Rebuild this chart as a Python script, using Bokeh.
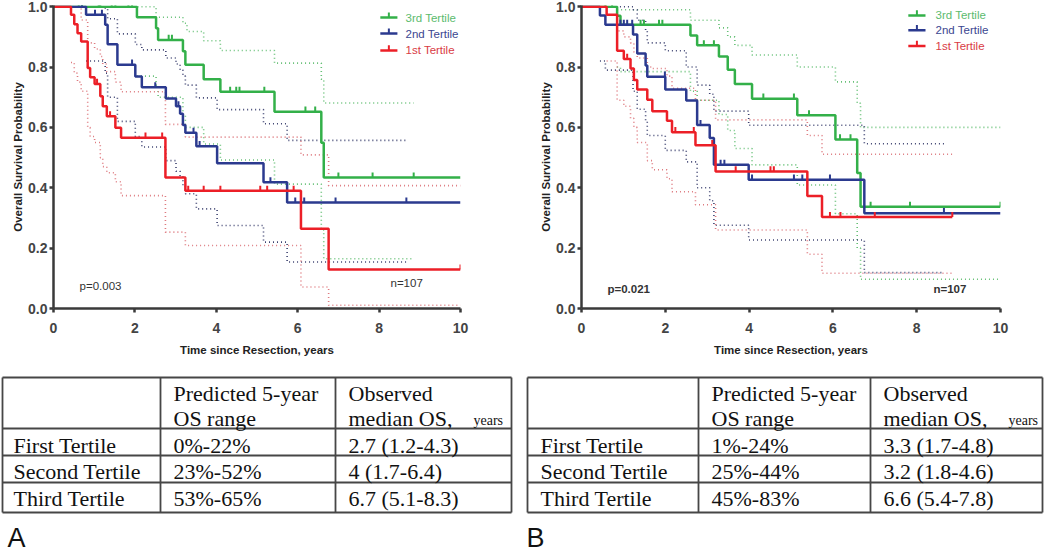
from bokeh.plotting import figure
from bokeh.layouts import row, column
from bokeh.models import Range1d, FixedTicker, PrintfTickFormatter
from bokeh.core.properties import value
from bokeh.embed import file_html
from bokeh.resources import INLINE

# ---------------- DATA ----------------
# Panel A (Kaplan-Meier, 3 tertiles)
A_green_t = [2.05, 2.52, 2.57, 3.18, 3.24, 3.69, 4.10, 5.43, 6.58, 6.64]
A_green_s = [0.965, 0.929, 0.890, 0.852, 0.808, 0.760, 0.718, 0.652, 0.549, 0.434]
A_green_cens = [0.62, 0.70, 1.11, 1.15, 1.43, 1.52, 1.84, 1.93, 2.83, 2.91, 4.34, 4.49, 4.57, 5.18, 6.19, 6.43, 7.00, 7.84, 8.85]
A_green_up_t = [0.0, 2.52, 3.18, 3.28, 3.69, 4.10, 5.43, 6.58, 6.64]
A_green_up_v = [1.0, 0.965, 0.945, 0.918, 0.887, 0.855, 0.813, 0.760, 0.681]
A_green_lo_t = [2.05, 2.52, 2.57, 3.18, 3.24, 3.69, 4.10, 5.43, 6.58, 6.64]
A_green_lo_v = [0.77, 0.74, 0.70, 0.64, 0.60, 0.545, 0.492, 0.412, 0.26, 0.165]

A_blue_t = [0.80, 1.27, 1.33, 1.57, 2.01, 2.17, 2.76, 3.01, 3.11, 3.18, 3.24, 3.51, 4.02, 5.16, 5.74]
A_blue_s = [0.973, 0.940, 0.876, 0.808, 0.769, 0.733, 0.696, 0.670, 0.645, 0.608, 0.582, 0.538, 0.481, 0.418, 0.351]
A_blue_cens = [0.70, 1.02, 1.19, 1.93, 2.50, 3.07, 3.44, 3.59, 5.33, 5.94, 6.16, 6.93, 8.67]
A_blue_up_t = [0.80, 1.27, 1.33, 1.57, 2.01, 2.17, 2.76, 3.01, 3.11, 3.18, 3.24, 3.51, 4.02, 5.16, 5.74]
A_blue_up_v = [1.0, 0.995, 0.96, 0.91, 0.875, 0.857, 0.83, 0.81, 0.79, 0.77, 0.74, 0.698, 0.659, 0.612, 0.557]
A_blue_lo_t = [0.80, 1.27, 1.33, 1.57, 2.01, 2.17, 2.76, 3.01, 3.11, 3.18, 3.24, 3.51, 4.02, 5.16, 5.74]
A_blue_lo_v = [0.82, 0.78, 0.70, 0.62, 0.57, 0.535, 0.49, 0.455, 0.44, 0.41, 0.38, 0.33, 0.275, 0.22, 0.154]

A_red_t = [0.43, 0.51, 0.59, 0.68, 0.84, 0.90, 1.01, 1.15, 1.21, 1.31, 1.52, 1.66, 2.75, 3.24, 6.08, 6.76]
A_red_s = [0.973, 0.942, 0.912, 0.885, 0.797, 0.766, 0.744, 0.703, 0.670, 0.637, 0.599, 0.566, 0.434, 0.390, 0.264, 0.129]
A_red_cens = [1.07, 1.39, 2.26, 2.67, 3.31, 3.69, 4.10, 5.08, 5.25, 5.90, 10.0]
A_red_up_t = [0.43, 0.68, 0.84, 1.01, 1.15, 1.21, 1.31, 1.52, 1.66, 2.75, 3.24, 6.08, 6.76]
A_red_up_v = [1.0, 0.956, 0.88, 0.86, 0.835, 0.81, 0.785, 0.75, 0.718, 0.61, 0.568, 0.509, 0.407]
A_red_lo_t = [0.43, 0.51, 0.59, 0.68, 0.84, 0.90, 1.01, 1.15, 1.21, 1.31, 1.52, 1.66, 2.75, 3.24, 6.08, 6.76]
A_red_lo_v = [0.815, 0.78, 0.75, 0.72, 0.60, 0.57, 0.55, 0.50, 0.47, 0.45, 0.42, 0.374, 0.253, 0.209, 0.071, 0.011]

A_ends = {"green": (10.0, 8.85), "blue": (10.0, 8.67), "red": (10.0, 10.0)}

# Panel B
B_green_t = [0.85, 0.93, 2.60, 2.76, 3.28, 3.49, 3.66, 4.07, 5.15, 6.06, 6.58, 6.66]
B_green_s = [0.970, 0.940, 0.905, 0.872, 0.835, 0.791, 0.744, 0.695, 0.640, 0.560, 0.449, 0.337]
B_green_cens = [0.57, 0.73, 1.41, 1.49, 1.85, 1.93, 2.92, 3.16, 4.34, 5.07, 5.43, 6.17, 6.42, 6.90, 7.84, 10.0]
B_green_up_t = [0.85, 2.60, 3.28, 3.49, 3.66, 4.07, 5.15, 6.06, 6.58, 6.66]
B_green_up_v = [0.99, 0.955, 0.93, 0.90, 0.872, 0.84, 0.80, 0.751, 0.68, 0.60]
B_green_lo_t = [0.85, 0.93, 2.60, 2.76, 3.28, 3.49, 3.66, 4.07, 5.15, 6.06, 6.58, 6.66]
B_green_lo_v = [0.80, 0.785, 0.72, 0.69, 0.643, 0.59, 0.53, 0.476, 0.409, 0.314, 0.20, 0.097]

B_blue_t = [0.44, 0.57, 1.23, 1.33, 1.53, 1.57, 2.00, 2.50, 2.76, 3.06, 3.16, 3.99, 6.75]
B_blue_s = [0.971, 0.940, 0.908, 0.845, 0.805, 0.768, 0.726, 0.689, 0.608, 0.565, 0.476, 0.427, 0.316]
B_blue_cens = [0.93, 1.01, 1.09, 1.21, 1.99, 2.84, 3.32, 3.41, 4.07, 5.07, 5.27, 5.93, 8.65]
B_blue_up_t = [0.44, 1.23, 1.33, 1.53, 1.57, 2.00, 2.50, 2.76, 3.06, 3.16, 3.99, 6.75]
B_blue_up_v = [1.0, 0.99, 0.955, 0.92, 0.88, 0.854, 0.80, 0.74, 0.71, 0.654, 0.607, 0.546]
B_blue_lo_t = [0.44, 0.57, 1.23, 1.33, 1.53, 1.57, 2.00, 2.50, 2.76, 3.06, 3.16, 3.99, 6.75]
B_blue_lo_v = [0.82, 0.79, 0.72, 0.66, 0.62, 0.573, 0.524, 0.486, 0.40, 0.357, 0.276, 0.227, 0.119]

B_red_t = [0.60, 0.85, 1.01, 1.17, 1.25, 1.33, 1.57, 1.69, 2.04, 2.16, 2.72, 3.20, 5.39, 5.74]
B_red_s = [0.973, 0.854, 0.827, 0.795, 0.757, 0.726, 0.692, 0.654, 0.622, 0.584, 0.541, 0.454, 0.373, 0.303]
B_red_cens = [1.09, 2.24, 2.68, 3.12, 3.68, 4.51, 4.59, 5.93, 6.18, 7.00, 8.85]
B_red_up_t = [0.60, 0.85, 1.01, 1.17, 1.25, 1.33, 1.57, 1.69, 2.04, 2.16, 2.72, 3.20, 5.39, 5.74]
B_red_up_v = [1.0, 0.92, 0.90, 0.88, 0.85, 0.83, 0.80, 0.795, 0.77, 0.73, 0.69, 0.625, 0.573, 0.511]
B_red_lo_t = [0.60, 0.85, 1.01, 1.17, 1.25, 1.33, 1.57, 1.69, 2.04, 2.16, 2.72, 3.20, 5.39, 5.74]
B_red_lo_v = [0.82, 0.69, 0.67, 0.63, 0.60, 0.55, 0.49, 0.46, 0.43, 0.387, 0.344, 0.26, 0.18, 0.117]

B_ends = {"green": (10.0, 10.0), "blue": (10.0, 8.65), "red": (8.85, 8.85)}

LEGEND_LABELS = ["3rd Tertile", "2nd Tertile", "1st Tertile"]
X_TICKS = [0, 2, 4, 6, 8, 10]
Y_TICKS = [0.0, 0.2, 0.4, 0.6, 0.8, 1.0]

TABLE_HEAD1 = ["", "Predicted 5-year", "Observed"]
TABLE_HEAD2 = ["", "OS range", "median OS,"]
TABLE_HEAD2_SMALL = "years"
TERTILES = ["First Tertile", "Second Tertile", "Third Tertile"]
A_RANGE = ["0%-22%", "23%-52%", "53%-65%"]
A_MEDIAN = ["2.7 (1.2-4.3)", "4 (1.7-6.4)", "6.7 (5.1-8.3)"]
B_RANGE = ["1%-24%", "25%-44%", "45%-83%"]
B_MEDIAN = ["3.3 (1.7-4.8)", "3.2 (1.8-4.6)", "6.6 (5.4-7.8)"]

# ---------------- STYLE ----------------
COL = {"green": "#33b049", "blue": "#2b3a8f", "red": "#ec1f27"}
CI_COL = {"green": "#66c076", "blue": "#3d4270", "red": "#de7b80"}
TXT_COL = {"green": "#5bbb6e", "blue": "#3b4690", "red": "#d93b44"}
SANS = "Liberation Sans"
SERIF = "Liberation Serif"
AXIS_COL = "#3a3a3a"


def surv_at(t, times, surv):
    v = 1.0
    for ti, si in zip(times, surv):
        if ti <= t:
            v = si
    return v


def km_figure(width, height, bl, br, bt, bb, curves, ends, legend, notes, note_bold):
    p = figure(width=width, height=height, x_range=Range1d(0, 10), y_range=Range1d(0, 1.004),
               output_backend="svg", toolbar_location=None,
               min_border_left=bl, min_border_right=br, min_border_top=bt, min_border_bottom=bb)
    p.xgrid.visible = False
    p.ygrid.visible = False
    p.outline_line_color = None
    p.xaxis.ticker = FixedTicker(ticks=X_TICKS)
    p.yaxis.ticker = FixedTicker(ticks=Y_TICKS)
    p.yaxis.formatter = PrintfTickFormatter(format="%.1f")
    p.xaxis.formatter = PrintfTickFormatter(format="%d")
    for ax in (p.xaxis[0], p.yaxis[0]):
        ax.axis_line_width = 2.5
        ax.axis_line_color = AXIS_COL
        ax.major_tick_line_width = 2.5
        ax.major_tick_line_color = AXIS_COL
        ax.major_tick_out = 4
        ax.major_tick_in = 0
        ax.minor_tick_line_color = None
        ax.major_label_text_font = SANS
        ax.major_label_text_font_style = "bold"
        ax.major_label_text_font_size = "14px"
        ax.major_label_text_color = "#444444"
        ax.axis_label_text_font = SANS
        ax.axis_label_text_font_style = "bold"
        ax.axis_label_text_font_size = "11.5px"
        ax.axis_label_text_color = "#222222"
    p.xaxis.axis_label = "Time since Resection, years"
    p.yaxis.axis_label = "Overall Survival Probability"
    p.xaxis.major_label_standoff = 10
    p.xaxis.axis_label_standoff = 8
    p.yaxis.major_label_standoff = 2
    p.yaxis.axis_label_standoff = 1

    # confidence bands (dotted)
    for name, c in curves.items():
        line_end, ci_end = ends[name]
        for tt, vv in ((c["up_t"], c["up_v"]), (c["lo_t"], c["lo_v"])):
            xs = list(tt) + [ci_end]
            ys = list(vv) + [vv[-1]]
            p.step(xs, ys, mode="after", line_color=CI_COL[name], line_width=1.6, line_dash="1 3")
    # survival curves
    for name in ["green", "blue", "red"]:
        c = curves[name]
        line_end, ci_end = ends[name]
        xs = [0.0] + list(c["t"]) + [line_end]
        ys = [1.0] + list(c["s"]) + [c["s"][-1]]
        p.step(xs, ys, mode="after", line_color=COL[name], line_width=2.5)
        cy = [surv_at(t, c["t"], c["s"]) for t in c["cens"]]
        p.segment(x0=c["cens"], y0=cy, x1=c["cens"], y1=[y + 0.017 for y in cy],
                  line_color=COL[name], line_width=2)

    # legend
    lx0, lx1, ltx, lys = legend
    for name, lab, ly in zip(["green", "blue", "red"], LEGEND_LABELS, lys):
        p.segment(x0=[lx0], y0=[ly], x1=[lx1], y1=[ly], line_color=COL[name], line_width=2.5)
        xm = (lx0 + lx1) / 2
        p.segment(x0=[xm], y0=[ly], x1=[xm], y1=[ly + 0.017], line_color=COL[name], line_width=2)
        p.text(x=[ltx], y=[ly], text=[lab], text_color=TXT_COL[name], text_font=value(SANS),
               text_font_size="11.5px", text_baseline="middle", text_align="left")
    for (nx, ny, nt) in notes:
        p.text(x=[nx], y=[ny], text=[nt], text_color="#333333", text_font=value(SANS),
               text_font_size="11.5px", text_font_style="bold" if note_bold else "normal",
               text_baseline="middle", text_align="left")
    return p


curvesA = {
    "green": dict(t=A_green_t, s=A_green_s, cens=A_green_cens, up_t=A_green_up_t, up_v=A_green_up_v,
                  lo_t=A_green_lo_t, lo_v=A_green_lo_v),
    "blue": dict(t=A_blue_t, s=A_blue_s, cens=A_blue_cens, up_t=A_blue_up_t, up_v=A_blue_up_v,
                 lo_t=A_blue_lo_t, lo_v=A_blue_lo_v),
    "red": dict(t=A_red_t, s=A_red_s, cens=A_red_cens, up_t=A_red_up_t, up_v=A_red_up_v,
                lo_t=A_red_lo_t, lo_v=A_red_lo_v),
}
curvesB = {
    "green": dict(t=B_green_t, s=B_green_s, cens=B_green_cens, up_t=B_green_up_t, up_v=B_green_up_v,
                  lo_t=B_green_lo_t, lo_v=B_green_lo_v),
    "blue": dict(t=B_blue_t, s=B_blue_s, cens=B_blue_cens, up_t=B_blue_up_t, up_v=B_blue_up_v,
                 lo_t=B_blue_lo_t, lo_v=B_blue_lo_v),
    "red": dict(t=B_red_t, s=B_red_s, cens=B_red_cens, up_t=B_red_up_t, up_v=B_red_up_v,
                lo_t=B_red_lo_t, lo_v=B_red_lo_v),
}

fA = km_figure(520, 360, 53, 60, 5, 52, curvesA, A_ends,
               (8.03, 8.45, 8.65, [0.964, 0.911, 0.855]),
               [(0.64, 0.076, "p=0.003"), (8.28, 0.083, "n=107")], False)
fB = km_figure(530, 360, 61, 50, 5, 47, curvesB, B_ends,
               (7.80, 8.21, 8.45, [0.971, 0.922, 0.870]),
               [(0.62, 0.065, "p=0.021"), (8.40, 0.065, "n=107")], True)


def table_figure(x0, x1, col_edges, row_edges, text_x, range_col, median_col, letter, letter_x):
    p = figure(width=x1 - x0, height=193, x_range=Range1d(x0, x1), y_range=Range1d(553, 360),
               output_backend="svg", toolbar_location=None, min_border=0)
    p.axis.visible = False
    p.xgrid.visible = False
    p.ygrid.visible = False
    p.outline_line_color = None
    lc = "#464646"
    p.segment(x0=[col_edges[0]] * len(row_edges), y0=row_edges, x1=[col_edges[-1]] * len(row_edges),
              y1=row_edges, line_color=lc, line_width=1.8)
    p.segment(x0=col_edges, y0=[row_edges[0]] * len(col_edges), x1=col_edges,
              y1=[row_edges[-1]] * len(col_edges), line_color=lc, line_width=1.8)
    fs = "22px"
    mid_h1, mid_h2 = 393, 418
    row_mid = [445, 471, 498]
    for i in (1, 2):
        p.text(x=[text_x[i]], y=[mid_h1], text=[TABLE_HEAD1[i]], text_font=value(SERIF),
               text_font_size=fs, text_color="#111111", text_baseline="middle")
        p.text(x=[text_x[i]], y=[mid_h2], text=[TABLE_HEAD2[i]], text_font=value(SERIF),
               text_font_size=fs, text_color="#111111", text_baseline="middle")
    p.text(x=[text_x[2] + 125], y=[mid_h2 + 2], text=[TABLE_HEAD2_SMALL], text_font=value(SERIF),
           text_font_size="14px", text_color="#111111", text_baseline="middle")
    p.text(x=[text_x[0]] * 3, y=row_mid, text=TERTILES, text_font=value(SERIF),
           text_font_size=fs, text_color="#111111", text_baseline="middle")
    p.text(x=[text_x[1]] * 3, y=row_mid, text=range_col, text_font=value(SERIF),
           text_font_size=fs, text_color="#111111", text_baseline="middle")
    p.text(x=[text_x[2]] * 3, y=row_mid, text=median_col, text_font=value(SERIF),
           text_font_size=fs, text_color="#111111", text_baseline="middle")
    p.text(x=[letter_x], y=[537], text=[letter], text_font=value(SANS), text_font_size="27px",
           text_color="#111111", text_baseline="middle")
    return p


tA = table_figure(0, 520, [2, 160, 335, 511], [377, 428, 455, 482, 512], [13, 173, 348],
                  A_RANGE, A_MEDIAN, "A", 7)
tB = table_figure(520, 1050, [527, 698, 870, 1042], [377, 428, 455, 482, 512], [540, 711, 883],
                  B_RANGE, B_MEDIAN, "B", 526)

layout = column(row(fA, fB), row(tA, tB))
open("out.html", "w").write(file_html(layout, INLINE))
